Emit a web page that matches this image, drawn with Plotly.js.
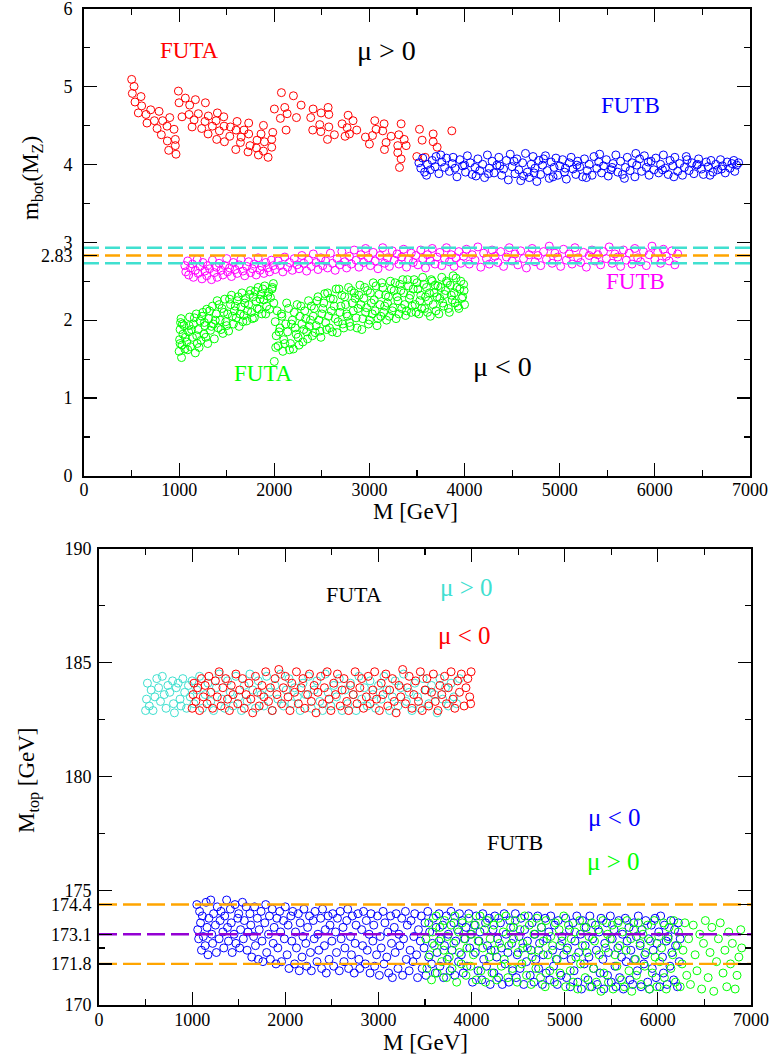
<!DOCTYPE html>
<html><head><meta charset="utf-8">
<script src="https://cdn.plot.ly/plotly-3.0.1.min.js"></script>
<style>html,body{margin:0;padding:0;background:#fff}</style>
</head><body><div id="chart" style="width:770px;height:1055px"></div>
<script>
// ---------- top panel: m_bot(M_Z) ----------
const futaPosM = [501,526,508,599,536,606,571,701,789,652,662,740,827,901,768,873,946,813,876,960,890,960,967,
992,999,1065,1111,1171,1276,1030,1104,1202,1157,1136,1237,1272,1307,1304,1402,1388,1469,1349,1423,1395,1472,1532,1476,1539,1609,1598,1595,1682,1731,1651,1644,1731,1724,1745,1819,1812,1886,1861,1896,1886,1935,1973,1984,1973,1833,
2001,2075,2201,2110,2135,2064,2233,2282,2124,2408,2492,2566,2573,2383,2478,2404,2489,2573,2559,2632,2713,2776,2765,2828,2790,2744,2867,2958,3056,3070,3032,3000,3154,3140,3175,3158,3228,3333,3309,3365,3298,3386,3298,3333,3316,3526,3554,3670,3670,3712,3866,3498,3586];
const futaPosMb = [5.09,5.00,4.91,4.87,4.80,4.75,4.66,4.70,4.68,4.64,4.53,4.56,4.56,4.60,4.46,4.49,4.45,4.38,4.30,4.32,4.18,4.24,4.13,
4.94,4.79,4.85,4.76,4.83,4.79,4.61,4.64,4.65,4.57,4.48,4.46,4.55,4.62,4.39,4.66,4.56,4.61,4.49,4.43,4.32,4.49,4.36,4.29,4.48,4.55,4.44,4.19,4.44,4.53,4.35,4.28,4.39,4.16,4.24,4.31,4.21,4.50,4.39,4.29,4.17,4.09,4.32,4.41,4.22,4.12,
4.71,4.92,4.88,4.73,4.65,4.59,4.60,4.76,4.44,4.71,4.66,4.73,4.64,4.60,4.51,4.44,4.42,4.48,4.32,4.38,4.52,4.63,4.47,4.56,4.39,4.36,4.44,4.35,4.56,4.45,4.37,4.26,4.52,4.43,4.28,4.19,4.36,4.52,4.38,4.32,4.24,4.24,4.15,4.07,3.96,4.45,4.31,4.39,4.29,4.22,4.43,4.10,4.09];

const futbPosM = [3520,3540,3560,3580,3610,3640,3660,3690,3700,3730,3760,3790,3810,3840,3870,3900,3920,3950,3980,4010,4030,4060,4080,4110,4140,4160,4190,4210,4240,4260,4290,4310,4340,4360,4390,4410,4440,4460,4480,4500,4530,4550,4570,4590,4610,4640,4660,4680,4700,4720,4740,4760,4780,4800,4820,4850,4870,4890,4910,4940,4960,4980,5000,5030,5050,5070,5100,5120,5140,5170,5190,5210,5240,5260,5290,5310,5340,5360,5390,5410,5440,5460,5490,5510,5540,5560,5590,5610,5640,5660,5690,5710,5740,5760,5790,5810,5840,5860,5890,5910,5940,5960,5990,6010,6040,6060,6090,6110,6140,6160,6190,6210,6240,6260,6290,6310,6340,6360,6390,6410,6440,6460,6490,6510,6540,6560,6590,6610,6640,6660,6690,6710,6740,6760,6790,6810,6840,6860,6880,
3600,3750,3880,4000,4120,4250,4370,4520,4620,4730,4830,4930,5060,5180,5280,5420,5550,5680,5800,5930,6080,6200,6330,6450,6580,6700,6830];
const futbPosMb = [4.02,3.95,4.08,3.90,4.00,3.93,4.05,3.97,4.10,3.88,4.03,3.96,4.08,3.91,4.01,3.95,3.84,4.06,3.98,3.90,4.11,4.02,3.87,3.96,4.07,3.92,4.00,3.83,4.12,3.95,4.04,3.89,3.99,4.09,3.86,3.94,4.05,3.80,4.13,3.97,3.88,4.07,3.93,3.79,4.02,4.14,3.90,3.83,4.00,4.10,3.95,3.78,4.05,3.87,3.99,4.11,3.92,3.82,4.03,3.96,4.08,3.86,3.98,4.06,3.90,3.81,4.02,4.09,3.94,3.87,4.04,3.97,3.84,4.07,3.92,4.00,3.86,4.10,3.95,4.03,3.89,3.98,4.06,3.85,3.93,4.01,4.12,3.90,4.04,3.87,3.96,4.09,3.92,4.02,3.84,3.99,4.07,3.91,4.11,3.96,3.86,4.04,3.93,4.08,3.89,4.00,4.12,3.95,3.87,4.05,3.98,4.09,3.91,4.01,3.86,3.96,4.06,3.92,4.02,3.88,3.99,4.07,3.94,3.87,4.03,3.97,4.05,3.90,4.00,3.93,4.06,3.98,3.89,4.03,3.95,4.01,3.91,3.99,4.02,
3.86,4.12,4.09,3.99,3.85,3.88,3.98,4.04,3.85,3.89,4.07,3.84,3.95,3.99,3.83,4.13,3.96,3.82,4.14,4.03,3.93,3.84,4.10,4.00,3.86,3.94,4.05];

const futaNegM = [1000,1005,1010,1015,1020,1025,1030,1040,1050,1060,1080,1100,1110,1120,1140,1150,1170,1180,1190,1200,1220,1230,1250,1260,1270,1290,1300,1310,1330,1350,1360,1370,1390,1400,1410,1430,1450,1460,1480,1490,1510,1520,1540,1550,1570,1580,1600,1610,1630,1650,1660,1680,1700,1710,1730,1750,1760,1780,1790,1810,1830,1840,1860,1870,1890,1900,1920,1940,1960,1975,1990,1995,
1010,1035,1065,1090,1105,1130,1160,1185,1210,1240,1265,1280,1320,1340,1380,1420,1440,1470,1500,1530,1560,1590,1620,1640,1670,1690,1720,1740,1770,1800,1820,1850,1880,1910,1930,1950,1980,
2000,2010,2020,2030,2040,2060,2080,2090,2100,2120,2140,2150,2170,2190,2200,2220,2240,2250,2270,2290,2300,2320,2340,2360,2380,2400,2420,2440,2460,2480,2500,2520,2540,2560,2580,2600,2620,2640,2660,2680,2700,2720,2740,2760,2780,2800,2820,2840,2860,2880,2900,2920,2940,2960,2980,3000,3020,3040,3060,3080,3100,3120,3140,3160,3180,3200,3220,3240,3260,3280,3300,3320,3340,3360,3380,3400,3420,3440,3460,3480,3500,3520,3540,3560,3580,3600,3620,3640,3660,3680,3700,3720,3740,3760,3780,3800,3820,3840,3860,3880,3900,3920,3940,3960,3980,3995,4000,
2015,2050,2075,2110,2130,2160,2180,2210,2230,2260,2280,2310,2330,2350,2370,2390,2410,2430,2450,2470,2490,2510,2530,2550,2570,2590,2610,2630,2650,2670,2690,2710,2730,2750,2770,2790,2810,2830,2850,2870,2890,2910,2930,2950,2970,2990,3010,3030,3050,3070,3090,3110,3130,3150,3170,3190,3210,3230,3250,3270,3290,3310,3330,3350,3370,3390,3410,3430,3450,3470,3490,3510,3530,3550,3570,3590,3610,3630,3650,3670,3690,3710,3730,3750,3770,3790,3810,3830,3850,3870,3890,3910,3930,3950,3970,3990];
const futaNegMb = [1.60,1.75,1.88,1.97,2.02,1.52,1.68,1.82,1.93,1.63,1.72,1.85,2.04,1.66,1.78,1.95,1.58,2.08,1.70,1.88,1.99,1.74,2.10,1.82,1.93,2.14,1.70,2.02,1.87,2.18,1.95,1.76,2.08,2.25,1.90,2.00,2.15,1.83,2.27,1.98,2.08,1.86,2.20,2.32,1.95,2.12,2.03,2.25,1.92,2.17,2.35,2.06,2.28,1.99,2.20,2.38,2.10,2.30,2.03,2.24,2.42,2.14,2.33,2.08,2.26,2.44,2.18,2.36,2.29,2.40,2.47,2.22,
1.70,1.95,1.78,1.62,1.93,1.88,2.03,1.80,1.65,2.05,1.97,1.78,2.12,1.92,2.00,2.20,1.88,2.10,1.93,2.27,2.05,2.18,2.30,2.08,1.98,2.22,2.12,2.33,2.02,2.37,2.15,2.27,2.40,2.08,2.31,2.14,2.42,
1.47,1.98,1.80,2.12,1.67,1.90,2.05,1.60,1.75,1.95,1.85,2.15,1.70,2.00,1.63,1.90,2.20,1.78,2.05,1.95,1.72,2.12,1.85,2.25,2.00,1.80,2.15,1.93,2.30,1.86,2.08,2.22,1.97,2.35,1.90,2.12,2.27,2.02,1.84,2.40,2.18,1.95,2.30,2.08,2.42,1.92,2.22,2.35,2.03,2.15,2.45,1.88,2.28,2.10,2.38,2.00,2.22,2.48,2.12,1.93,2.33,2.05,2.42,2.18,2.00,2.30,2.50,2.12,2.38,2.02,2.25,2.46,2.15,2.35,2.06,2.52,2.28,2.10,2.40,2.20,2.48,2.08,2.32,2.55,2.15,2.42,2.25,2.05,2.50,2.35,2.12,2.44,2.28,2.55,2.18,2.38,2.48,2.10,2.32,2.57,2.22,2.42,2.15,2.50,2.30,2.38,2.20,
1.65,1.85,2.08,1.70,2.22,1.62,1.95,2.10,1.82,1.68,2.18,1.88,2.02,1.76,1.92,2.18,2.05,1.84,2.25,2.00,1.78,2.15,2.34,1.88,2.05,2.28,1.85,2.18,2.40,1.98,2.10,2.32,1.90,2.20,2.05,1.97,2.38,2.12,2.28,1.90,2.32,2.20,2.02,2.42,2.16,1.95,2.35,2.08,2.26,2.44,2.02,2.20,2.48,2.10,2.32,2.22,2.05,2.40,2.16,2.48,2.30,2.08,2.38,2.52,2.20,2.12,2.44,2.32,2.18,2.52,2.10,2.40,2.25,2.15,2.46,2.30,2.10,2.35,2.52,2.20,2.45,2.30,2.08,2.42,2.22,2.33,2.50,2.15,2.45,2.26,2.35,2.54,2.18,2.40,2.28,2.46];

const futbNegM = [1060,1070,1090,1100,1120,1140,1150,1170,1190,1200,1220,1240,1250,1270,1290,1300,1320,1340,1350,1370,1390,1400,1420,1440,1460,1480,1500,1510,1530,1550,1570,1590,1610,1630,1650,1670,1690,1710,1730,1750,1770,1790,1810,1830,1850,1870,1890,1910,1930,1950,1970,1990,
2010,2040,2060,2090,2110,2140,2160,2190,2210,2240,2260,2290,2310,2340,2360,2390,2410,2440,2460,2490,2510,2540,2560,2590,2610,2640,2660,2690,2710,2740,2760,2790,2810,2840,2860,2890,2910,2940,2960,2990,3010,3040,3060,3090,3110,3140,3160,3190,3210,3240,3260,3290,3310,3340,3360,3390,3410,3440,3460,3490,3510,3540,3560,3590,3610,3640,3660,3690,3710,3740,3760,3790,3810,3840,3860,3890,3910,3940,3960,3990,
4020,4050,4080,4110,4140,4170,4200,4230,4260,4290,4320,4350,4380,4410,4440,4470,4500,4530,4560,4590,4620,4650,4680,4710,4740,4770,4800,4830,4860,4890,4920,4950,4980,5010,5040,5070,5100,5130,5160,5190,5220,5250,5280,5310,5340,5370,5400,5430,5460,5490,5520,5550,5580,5610,5640,5670,5700,5730,5760,5790,5820,5850,5880,5910,5940,5970,6000,6030,6060,6090,6120,6150,6180,6210,6240];
const futbNegMb = [2.70,2.62,2.76,2.58,2.67,2.72,2.55,2.64,2.78,2.60,2.69,2.53,2.74,2.63,2.57,2.70,2.66,2.52,2.77,2.61,2.68,2.55,2.73,2.64,2.58,2.70,2.79,2.62,2.67,2.56,2.74,2.65,2.60,2.71,2.78,2.63,2.57,2.69,2.75,2.61,2.66,2.72,2.58,2.80,2.64,2.69,2.60,2.74,2.67,2.62,2.77,2.70,
2.65,2.76,2.70,2.62,2.81,2.68,2.74,2.64,2.79,2.71,2.66,2.83,2.73,2.63,2.77,2.69,2.85,2.74,2.65,2.80,2.70,2.76,2.67,2.86,2.73,2.64,2.79,2.71,2.88,2.75,2.67,2.82,2.72,2.90,2.77,2.68,2.84,2.74,2.92,2.80,2.70,2.87,2.76,2.66,2.83,2.93,2.73,2.80,2.69,2.89,2.77,2.85,2.72,2.81,2.91,2.68,2.78,2.86,2.74,2.83,2.71,2.90,2.79,2.67,2.84,2.76,2.92,2.72,2.81,2.87,2.70,2.79,2.93,2.75,2.84,2.69,2.80,2.88,2.73,2.82,
2.91,2.72,2.84,2.77,2.94,2.68,2.86,2.79,2.72,2.90,2.82,2.74,2.88,2.69,2.81,2.93,2.76,2.85,2.71,2.89,2.79,2.67,2.84,2.92,2.75,2.83,2.70,2.88,2.78,2.95,2.73,2.86,2.81,2.69,2.91,2.77,2.85,2.72,2.93,2.80,2.74,2.87,2.68,2.83,2.90,2.76,2.84,2.71,2.88,2.79,2.94,2.73,2.85,2.81,2.69,2.90,2.77,2.86,2.72,2.92,2.80,2.75,2.88,2.70,2.84,2.95,2.78,2.87,2.73,2.91,2.82,2.76,2.89,2.71,2.85];

const mbotBand = [2.93, 2.83, 2.73];

// ---------- bottom panel: M_top ----------
const topFutaPosM = [500,510,520,540,560,580,600,620,640,660,680,700,720,740,760,790,800,810,830,850,870,880,900,920,940,960,980,1000,1020,1050,1080,1110,1140,1170,1200,1230,1260,1290,1320,1350,1380,1410,1440,1470,1500,1530,1560,1590,1620,1650,1680,1710,1740,1770,1800,1830,1860,1890,1920,1950,1980,2010,2040,2070,2100,2130,2160,2190,2220,2250,2280,2310,2340,2370,2400,2430,2460,2490,2520,2550,2580,2610,2640,2670,2700,2730,2760,2790,2820,2850,2880,2910,2940,2970,3000,3030,3060,3090,3120,3150,3180,3210,3240,3270,3300,3330,3360,3390,3420,3450,3480,3510,3540,3570,3600,3630,3660,3690,3720,3750,3780,3810,3840,3870];
const topFutaPosMt = [182.9,183.4,184.1,183.1,183.8,182.9,183.5,184.3,183.9,183.3,184.4,183.6,183.0,184.0,183.7,184.2,183.2,182.8,183.9,184.1,183.4,183.1,184.3,183.7,183.0,184.0,183.5,184.2,183.2,183.8,184.4,183.0,183.6,184.1,183.3,182.9,183.9,184.5,183.4,183.0,184.2,183.7,183.1,184.4,183.5,182.9,184.0,183.3,184.5,183.8,183.0,184.2,183.6,183.1,184.4,183.7,182.9,184.0,183.4,184.5,183.1,183.8,184.3,183.2,183.9,183.5,182.9,184.1,183.6,184.4,183.0,183.8,184.2,183.3,182.9,184.5,183.7,183.1,184.0,183.5,184.3,182.9,183.8,183.2,184.1,183.6,182.9,184.4,183.4,183.9,183.1,184.2,183.6,183.0,184.0,183.4,184.4,183.8,182.9,183.5,184.2,183.1,183.9,184.5,183.3,183.7,182.9,184.1,183.5,183.0,184.3,183.8,183.2,184.0,183.6,182.8,184.3,183.4,183.9,183.1,184.1,183.5,183.2,184.3];

const topFutaNegM = [1000,1010,1020,1040,1060,1080,1100,1120,1140,1160,1180,1200,1220,1250,1270,1290,1310,1330,1360,1380,1400,1420,1440,1470,1490,1510,1540,1560,1580,1610,1630,1650,1680,1700,1720,1750,1770,1790,1820,1840,1860,1890,1910,1930,1960,1980,2000,2030,2050,2070,2100,2120,2140,2170,2190,2210,2240,2260,2280,2310,2330,2350,2380,2400,2420,2450,2470,2490,2520,2540,2560,2590,2610,2630,2660,2680,2700,2730,2750,2770,2800,2820,2840,2870,2890,2910,2940,2960,2980,3010,3030,3050,3080,3100,3120,3150,3170,3190,3220,3240,3260,3290,3310,3330,3360,3380,3400,3430,3450,3470,3500,3520,3540,3570,3590,3610,3640,3660,3680,3710,3730,3750,3780,3800,3820,3850,3870,3890,3920,3940,3960,3980,3995,3990];
const topFutaNegMt = [183.0,183.6,184.1,183.3,183.9,182.9,184.3,183.5,184.0,183.2,184.4,183.7,183.0,184.2,183.5,184.6,183.1,183.9,184.3,183.4,182.9,184.0,183.6,184.5,183.2,183.8,184.3,183.0,183.6,184.1,183.4,182.8,184.4,183.7,183.1,184.0,183.5,184.6,183.3,183.9,182.9,184.3,183.6,184.7,183.2,183.9,184.4,183.5,182.9,184.1,183.7,184.6,183.2,183.9,184.3,183.0,183.6,184.5,183.3,184.0,182.8,183.7,184.4,183.2,183.9,184.6,183.4,182.9,184.1,183.6,184.5,183.1,183.8,184.3,183.3,182.9,184.0,183.6,184.6,183.2,183.9,184.3,183.0,183.5,184.4,183.2,183.8,184.6,183.4,182.9,184.1,183.6,184.5,183.1,183.8,184.3,183.3,182.8,184.0,183.5,184.7,183.2,183.9,184.4,183.0,183.6,184.2,183.3,184.6,182.9,183.8,184.3,183.1,183.7,184.5,183.3,182.9,184.0,183.6,184.4,183.2,183.9,184.6,183.4,183.0,184.2,183.7,184.5,183.1,183.9,184.3,183.5,184.6,183.2];

const topFutbNegM = [1050,1060,1070,1080,1090,1100,1110,1120,1140,1150,1160,1170,1180,1200,1210,1220,1230,1250,1260,1270,1290,1300,1310,1330,1340,1350,1370,1380,1390,1410,1420,1430,1450,1460,1470,1490,1500,1510,1520,1540,1550,1560,1580,1590,1600,
1620,1630,1640,1660,1670,1680,1700,1710,1720,1740,1750,1760,1780,1790,1800,1820,1830,1840,1860,1870,1880,1900,1910,1920,1940,1950,1960,1980,1990,2000,
2020,2030,2040,2060,2070,2080,2100,2110,2120,2140,2150,2160,2180,2190,2200,2220,2230,2240,2260,2270,2280,2300,2310,2320,2340,2350,2360,2380,2390,2400,2420,2430,2440,2460,2470,2480,2500,2510,2520,2540,2550,2560,2580,2590,2600,2620,2630,2640,2660,2670,2680,2700,2710,2720,2740,2750,2760,2780,2790,2800,2820,2830,2840,2860,2870,2880,2900,2910,2920,2940,2950,2960,2980,2990,
3010,3020,3030,3050,3060,3070,3090,3100,3110,3130,3140,3150,3170,3180,3190,3210,3220,3230,3250,3260,3270,3290,3300,3310,3330,3340,3350,3370,3380,3390,3410,3420,3430,3450,3460,3470,3490,3500,3510,3530,3540,3550,3570,3580,3590,3610,3620,3630,3650,3660,3670,3690,3700,3710,3730,3740,3750,3770,3780,3790,3810,3820,3830,3850,3860,3870,3890,3900,3910,3930,3940,3950,3970,3980,3990,
4010,4030,4040,4050,4070,4080,4090,4110,4120,4130,4150,4160,4170,4190,4200,4210,4230,4240,4250,4270,4280,4290,4310,4320,4330,4350,4360,4370,4390,4400,4410,4430,4440,4450,4470,4480,4490,4510,4520,4530,4550,4560,4570,4590,4600,4610,4630,4640,4650,4670,4680,4690,4710,4720,4730,4750,4760,4770,4790,4800,4810,4830,4840,4850,4870,4880,4890,4910,4920,4930,4950,4960,4970,4990,
5010,5020,5030,5050,5060,5070,5090,5100,5110,5130,5140,5150,5170,5180,5190,5210,5220,5230,5250,5260,5270,5290,5300,5310,5330,5340,5350,5370,5380,5390,5410,5420,5430,5450,5460,5470,5490,5500,5510,5530,5540,5550,5570,5580,5590,5610,5620,5630,5650,5660,5670,5690,5700,5710,5730,5740,5750,5770,5780,5790,5810,5820,5830,5850,5860,5870,5890,5900,5910,5930,5940,5950,5970,5980,5990,6010,6020,6030,6050,6060,6070,6090,6100,6110,6130,6140,6150,6170,6180,6190,6210,6220,6230,6240];
const topFutbNegMt = [174.4,173.3,172.9,174.1,173.6,172.4,173.9,173.0,172.6,174.5,173.4,172.2,173.8,174.6,173.1,172.7,174.0,173.5,172.3,174.3,172.9,173.7,174.1,173.2,172.5,173.9,174.6,173.4,172.8,174.2,173.6,172.3,173.1,174.4,172.7,173.8,174.0,172.5,173.3,174.5,172.9,173.7,174.3,172.4,173.2,
174.0,173.5,172.1,173.0,174.3,172.6,173.8,172.0,173.3,174.1,172.8,171.9,173.6,174.4,172.3,173.1,173.9,172.0,174.2,172.7,173.4,171.8,173.8,172.5,174.1,173.2,171.9,173.7,172.9,174.3,
172.2,173.5,171.6,173.9,172.8,174.1,171.8,173.2,172.5,174.0,171.5,173.6,172.1,173.0,174.2,172.7,171.7,173.4,173.9,172.3,171.5,173.7,172.9,174.1,171.9,173.1,172.4,173.8,171.6,174.2,172.6,173.3,171.4,173.9,172.0,173.5,172.8,174.0,171.7,173.2,172.3,173.8,171.5,174.1,172.9,173.4,171.9,172.5,173.7,174.2,171.6,173.0,172.2,173.9,171.4,172.7,173.5,174.0,172.0,171.6,173.3,172.6,174.1,171.8,173.7,172.4,173.1,171.4,174.0,172.8,173.5,171.7,172.2,173.9,
171.3,173.0,172.5,174.1,171.8,173.6,172.1,173.2,171.4,173.9,172.7,171.2,173.4,172.3,174.0,171.6,173.1,172.6,173.8,171.3,172.9,174.1,172.0,173.5,171.5,172.4,173.7,171.9,173.0,174.0,172.2,171.2,173.3,172.8,173.9,171.6,172.5,173.6,171.3,174.1,172.1,173.2,171.8,172.7,173.8,171.4,173.4,172.3,174.0,171.7,172.9,173.5,171.2,172.6,173.9,172.0,173.1,171.5,174.1,172.4,173.6,171.3,172.8,173.3,171.9,174.0,172.2,173.7,171.4,172.9,173.4,171.7,174.0,172.5,173.1,
171.0,173.5,172.3,173.9,171.5,172.8,173.2,171.1,174.0,172.0,173.6,171.7,172.6,173.8,170.9,172.4,173.3,171.4,173.9,172.1,172.9,171.2,173.6,172.5,170.9,174.0,171.8,173.1,172.3,171.0,173.7,172.7,171.5,173.4,174.0,171.2,172.2,173.0,171.6,173.8,172.5,170.9,173.3,171.9,172.8,173.9,171.3,172.4,173.6,171.0,173.1,172.0,173.9,171.6,172.7,173.4,170.9,172.2,173.8,171.4,172.9,173.2,171.1,173.9,172.4,171.7,173.5,172.0,170.9,173.7,172.6,171.3,173.0,172.2,
173.8,171.2,172.5,173.3,170.8,172.0,173.6,171.5,172.8,173.9,171.0,172.3,173.1,170.7,173.7,171.8,172.6,173.4,171.1,172.1,173.9,170.8,172.9,171.6,173.5,172.4,170.9,173.2,171.4,173.8,172.0,170.7,172.7,173.6,171.3,172.3,173.9,171.0,172.9,173.3,171.7,170.8,172.5,173.7,171.2,172.1,173.1,170.7,173.8,171.9,172.8,173.4,171.1,172.4,170.9,173.6,172.0,173.0,171.5,173.9,172.6,170.8,173.3,171.8,172.2,173.7,171.0,172.9,170.7,173.5,171.6,172.4,173.8,171.2,172.7,173.2,170.8,173.9,172.1,171.4,173.5,172.8,170.9,173.0,171.7,173.7,172.3,171.1,173.3,172.6,170.8,173.6,171.9,172.9];

const topFutbPosM = [3510,3520,3540,3550,3570,3580,3600,3620,3630,3650,3660,3680,3700,3710,3730,3740,3760,3780,3790,3810,3820,3840,3860,3870,3890,3900,3920,3940,3950,3970,3990,4000,4020,4040,4050,4070,4090,4100,4120,4140,4150,4170,4190,4200,4220,4240,4250,4270,4290,4300,4320,4340,4350,4370,4390,4400,4420,4440,4450,4470,4490,4500,4520,4540,4550,4570,4590,4600,4620,4640,4650,4670,4690,4700,4720,4740,4750,4770,4790,4800,4820,4840,4850,4870,4890,4900,4920,4940,4950,4970,4990,
5010,5020,5040,5060,5070,5090,5110,5120,5140,5160,5170,5190,5210,5220,5240,5260,5270,5290,5310,5320,5340,5360,5370,5390,5410,5420,5440,5460,5470,5490,5510,5520,5540,5560,5570,5590,5610,5620,5640,5660,5670,5690,5710,5720,5740,5760,5770,5790,5810,5820,5840,5860,5870,5890,5910,5920,5940,5960,5970,5990,6010,6020,6040,6060,6070,6090,6110,6120,6140,6160,6170,6190,6210,6220,6240,6260,6270,6290,6310,6330,6350,6380,6400,6420,6450,6470,6490,6510,6540,6560,6580,6600,6630,6650,6670,6700,6720,6740,6760,6780,6800,6830,6850,6870,6890,6900];
const topFutbPosMt = [172.9,171.6,173.6,172.2,171.1,173.2,172.6,173.9,171.4,172.8,173.4,171.9,172.4,173.7,171.2,173.0,172.1,173.5,171.6,172.7,173.9,171.0,173.2,172.3,171.8,173.6,172.9,171.3,172.5,173.8,171.7,173.1,172.2,173.5,171.1,172.8,173.9,171.5,172.5,173.3,171.0,173.7,172.1,172.9,171.4,173.5,172.4,171.1,173.8,172.7,171.7,173.2,172.0,173.9,171.2,172.6,173.4,171.6,172.9,173.7,171.0,172.3,173.3,171.8,172.7,173.9,171.3,172.5,173.5,170.9,172.1,173.1,171.6,173.8,172.4,171.2,173.4,172.8,170.8,173.7,172.2,171.5,173.0,172.6,171.0,173.6,172.0,173.3,171.4,172.8,173.9,
170.8,172.4,173.5,171.5,172.9,171.0,173.2,172.1,170.7,173.7,171.8,172.6,173.4,171.2,172.3,173.0,170.8,173.6,171.6,172.8,171.0,173.3,172.2,170.6,173.7,171.4,172.5,173.1,171.0,172.9,173.5,170.7,172.2,171.7,173.6,172.6,171.1,173.2,170.8,172.4,173.7,171.5,172.9,170.6,173.3,172.0,171.3,173.6,172.7,170.9,173.1,171.7,172.3,173.5,170.7,172.8,171.4,173.7,172.1,170.8,173.0,171.9,172.5,173.6,171.2,170.7,172.9,173.4,171.6,172.2,173.7,171.0,172.6,173.2,170.8,171.8,172.4,173.6,171.3,172.9,170.9,173.5,172.2,171.5,173.1,170.7,172.7,173.7,171.2,172.3,173.4,170.6,171.9,172.9,173.6,171.4,172.4,170.8,173.2,171.8,172.7,170.7,171.3,172.1,173.3,172.5];

const mtopBand = [174.4, 173.1, 171.8];

// ---------- axes ticks ----------
const lineSpanM = [0, 7000];
const xTickVals = [0,1000,2000,3000,4000,5000,6000,7000];
const xTickText = ['0','1000','2000','3000','4000','5000','6000','7000'];
const xMinorVals = [500,1500,2500,3500,4500,5500,6500];
const yTopTickVals = [0,1,2,2.83,3,4,5,6];
const yTopTickText = ['0','1','2','2.83','3','4','5','6'];
const yTopMinorVals = [0.5,1.5,2.5,3.5,4.5,5.5];
const yBotTickVals = [170,171.8,173.1,174.4,175,180,185,190];
const yBotTickText = ['170','171.8','173.1','174.4','175','180','185','190'];
const yBotMinorVals = [172.5,177.5,182.5,187.5];

// ---------- drawing ----------
const SERIF = 'Liberation Serif';
function pts(x, y, color, xa, ya) {
  return {type:'scatter', mode:'markers', x:x, y:y, xaxis:xa, yaxis:ya, hoverinfo:'skip',
    marker:{symbol:'circle-open', size:8, color:color, line:{width:1, color:color}}};
}
function hline(v, color, xa, ya, dash) {
  return {type:'scatter', mode:'lines', x:lineSpanM, y:[v, v], xaxis:xa, yaxis:ya, hoverinfo:'skip',
    line:{color:color, width:2.4, dash:dash}};
}
const TURQ = '#40e0d0', ORANGE = '#ffa500', VIOLET = '#9400d3', LIME = '#00ff00';

const traces = [
  pts(futaPosM, futaPosMb, '#ff0000', 'x', 'y'),
  pts(futbPosM, futbPosMb, '#0000ff', 'x', 'y'),
  pts(futaNegM, futaNegMb, LIME, 'x', 'y'),
  pts(futbNegM, futbNegMb, '#ff00ff', 'x', 'y'),
  hline(mbotBand[0], TURQ, 'x', 'y', '15px,6px'),
  hline(mbotBand[1], ORANGE, 'x', 'y', '15px,6px'),
  hline(mbotBand[2], TURQ, 'x', 'y', '15px,6px'),
  pts(topFutaPosM, topFutaPosMt, TURQ, 'x2', 'y2'),
  pts(topFutaNegM, topFutaNegMt, '#ff0000', 'x2', 'y2'),
  pts(topFutbNegM, topFutbNegMt, '#0000ff', 'x2', 'y2'),
  pts(topFutbPosM, topFutbPosMt, LIME, 'x2', 'y2'),
  hline(mtopBand[0], ORANGE, 'x2', 'y2', '18px,6px'),
  hline(mtopBand[1], VIOLET, 'x2', 'y2', '18px,6px'),
  hline(mtopBand[2], ORANGE, 'x2', 'y2', '18px,6px')
];

function axis(extra, minorVals) {
  return Object.assign({
    showline:true, linecolor:'black', linewidth:2, mirror:'allticks',
    ticks:'inside', ticklen:13, tickwidth:1.2, tickcolor:'black',
    showgrid:false, zeroline:false, tickmode:'array', automargin:false,
    ticklabeloverflow:'allow',
    tickfont:{family:SERIF, size:18, color:'black'},
    minor:{ticks:'inside', ticklen:6, tickwidth:1.2, tickcolor:'black', tickmode:'array', tickvals:minorVals, showgrid:false}
  }, extra);
}

function ann(x, y, text, size, color, xref, yref, angle) {
  return {xref:xref, yref:yref, x:x, y:y, text:text, showarrow:false, xanchor:'center', yanchor:'middle',
    textangle:angle || 0, font:{family:SERIF, size:size, color:color}};
}

const W = 770, H = 1055;
const layout = {
  width:W, height:H, margin:{l:0, r:0, t:0, b:0}, showlegend:false,
  paper_bgcolor:'white', plot_bgcolor:'white',
  font:{family:SERIF, color:'black'},
  xaxis: axis({domain:[84/W, 750/W], range:[0,7000], anchor:'y', tickvals:xTickVals, ticktext:xTickText, ticklabelstandoff:-4}, xMinorVals),
  yaxis: axis({domain:[1-476/H, 1-8.5/H], range:[0,6], anchor:'x', tickvals:yTopTickVals, ticktext:yTopTickText, ticklabelstandoff:6}, yTopMinorVals),
  xaxis2: axis({domain:[99/W, 751/W], range:[0,7000], anchor:'y2', tickvals:xTickVals, ticktext:xTickText, ticklabelstandoff:-3}, xMinorVals),
  yaxis2: axis({domain:[1-1005/H, 1-548.5/H], range:[170,190], anchor:'x2', tickvals:yBotTickVals, ticktext:yBotTickText, ticklabelstandoff:2}, yBotMinorVals),
  annotations: [
    // axis titles
    ann(416/W, 1-511/H, 'M [GeV]', 23, 'black', 'paper', 'paper'),
    ann(425/W, 1-1042/H, 'M [GeV]', 23, 'black', 'paper', 'paper'),
    ann(32/W, 1-178/H, 'm<sub>bot</sub>(M<sub>Z</sub>)', 23, 'black', 'paper', 'paper', -90),
    ann(28/W, 1-780/H, 'M<sub>top</sub> [GeV]', 23, 'black', 'paper', 'paper', -90),
    // top panel labels
    ann(1104, 5.46, 'FUTA', 23, '#ff0000', 'x', 'y'),
    ann(3176, 5.46, 'μ > 0', 28, 'black', 'x', 'y'),
    ann(5741, 4.76, 'FUTB', 23, '#0000ff', 'x', 'y'),
    ann(5794, 2.50, 'FUTB', 23, '#ff00ff', 'x', 'y'),
    ann(1882, 1.31, 'FUTA', 23, LIME, 'x', 'y'),
    ann(4395, 1.40, 'μ < 0', 28, 'black', 'x', 'y'),
    // bottom panel labels
    ann(2739, 188.0, 'FUTA', 22, 'black', 'x2', 'y2'),
    ann(3942, 188.3, 'μ > 0', 25, TURQ, 'x2', 'y2'),
    ann(3920, 186.2, 'μ < 0', 25, '#ff0000', 'x2', 'y2'),
    ann(4468, 177.1, 'FUTB', 22, 'black', 'x2', 'y2'),
    ann(5532, 178.2, 'μ < 0', 25, '#0000ff', 'x2', 'y2'),
    ann(5521, 176.3, 'μ > 0', 25, LIME, 'x2', 'y2')
  ]
};

Plotly.newPlot('chart', traces, layout, {staticPlot:true, displayModeBar:false});
</script>
</body></html>
